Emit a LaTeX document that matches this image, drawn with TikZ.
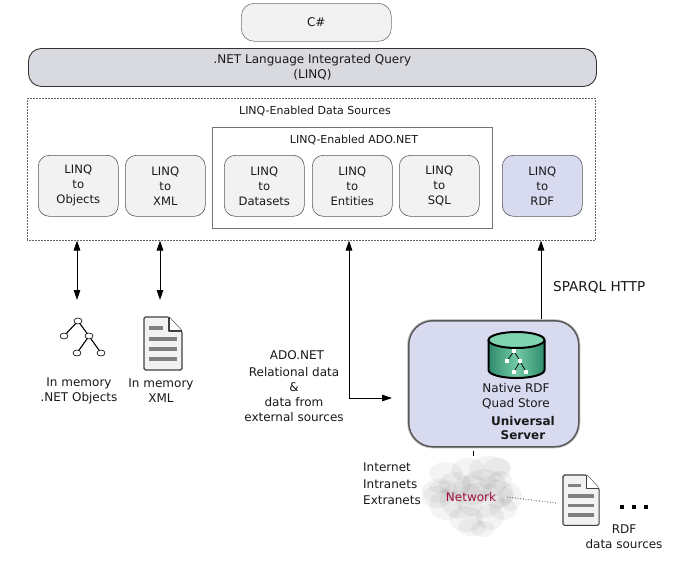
\documentclass[tikz,border=0pt]{standalone}
\usepackage{fontspec}
\setmainfont{DejaVu Sans}
\usetikzlibrary{arrows.meta,calc}
\definecolor{boxfill}{HTML}{F2F2F2}
\definecolor{barfill}{HTML}{D9DAE0}
\definecolor{rdffill}{HTML}{D8DAF0}
\definecolor{dbdark}{HTML}{2F8C6C}
\definecolor{dblight}{HTML}{7FD3B0}
\definecolor{netred}{HTML}{A01038}
\tikzset{
  tx/.style={font=\fontsize{12}{15}\selectfont,align=center,inner sep=0pt,text=black!90},
  small/.style={font=\fontsize{11}{14}\selectfont},
  rbox/.style={draw=black!65,line width=0.6pt,rounded corners=11pt,fill=boxfill,tx,anchor=north west},
  linq/.style={rbox,font=\fontsize{11.6}{15}\selectfont,minimum width=80pt,minimum height=61pt},
  dbl/.style={-{Triangle[length=10pt,width=6.5pt]},line width=0.8pt,black},
  twoway/.style={{Triangle[length=10pt,width=6.5pt]}-{Triangle[length=10pt,width=6.5pt]},line width=0.8pt,black},
  puff/.style={fill=black,fill opacity=0.045,draw=none},
  leaf/.style={draw=black,fill=white,line width=0.6pt},
  pics/docicon/.style={code={
    \draw[line width=1.1pt,draw=black!75,fill=boxfill,rounded corners=1.5pt]
      (0,0) -- (25,0) -- (38,14) -- (38,53) -- (0,53) -- cycle;
    \draw[line width=1.1pt,draw=black!75,fill=white,line join=round] (25,0) -- (25,14) -- (38,14);
    \fill[black!50] (5,9) rectangle (19,13);
    \fill[black!50] (5,20) rectangle (33,24);
    \fill[black!50] (5,30) rectangle (33,34);
    \fill[black!50] (5,40) rectangle (33,44);
  }},
}
\begin{document}
\begin{tikzpicture}[x=1pt,y=-1pt]
\useasboundingbox (0,0) rectangle (674,563);
\fill[white] (0,0) rectangle (674,563);

\node[rbox,draw=black!55,rounded corners=13pt,minimum width=150pt,minimum height=38pt] (csharp) at (241,3) {C\#};
\node[rbox,fill=barfill,draw=black!80,line width=0.9pt,rounded corners=13pt,minimum width=568pt,minimum height=38pt] (query) at (28,48) {.NET Language Integrated Query\\(LINQ)};

\node[draw=black!60,densely dotted,line width=0.5pt,minimum width=568pt,minimum height=142pt,inner sep=0pt,anchor=north west] (sources) at (27,98) {};
\node[tx,small] (sourcestitle) at (315,111) {LINQ-Enabled Data Sources};
\node[draw=black!55,line width=0.6pt,minimum width=280pt,minimum height=101pt,inner sep=0pt,anchor=north west] (ado) at (212,127) {};
\node[tx,small] (adotitle) at (354,140) {LINQ-Enabled ADO.NET};

\node[linq] (objects) at (38,155) {LINQ\\to\\Objects};
\node[linq] (xml) at (125,155) {LINQ\\to\\XML};
\node[linq] (datasets) at (224,155) {LINQ\\to\\Datasets};
\node[linq] (entities) at (312,155) {LINQ\\to\\Entities};
\node[linq] (sql) at (399,155) {LINQ\\to\\SQL};
\node[linq,fill=rdffill] (rdf) at (502,155) {LINQ\\to\\RDF};

% tree icon
\coordinate (ta) at (78,321);
\coordinate (tb) at (64,336);
\coordinate (tc) at (89,336);
\coordinate (td) at (77,353);
\coordinate (te) at (101,353);
\draw[line width=1.1pt,black] (ta) -- (tb) (ta) -- (tc) (tc) -- (td) (tc) -- (te);
\foreach \p in {ta,tb,tc,td,te} \draw[leaf] (\p) ellipse (4pt and 3pt);
\node[tx] (objlabel) at (79,391) {In memory\\.NET Objects};

% xml icon
\pic at (144,317) {docicon};
\node[tx] (xmllabel) at (161,391) {In memory\\XML};

\coordinate (objtop) at (77,300);
\coordinate (xmltop) at (160,300);
\draw[twoway] (objtop |- sources.south) -- (objtop);
\draw[twoway] (xmltop |- sources.south) -- (xmltop);

% server
\node[draw=black!65,line width=1.5pt,preaction={draw=black!22,line width=3.2pt},fill=rdffill,rounded corners=24pt,minimum width=170pt,minimum height=126pt,inner sep=0pt,anchor=north west] (server) at (408,320) {};
% cylinder
\coordinate (cyl) at (516.5,340);
\path[left color=dbdark,right color=dbdark,middle color=dblight!85!dbdark]
  (488.5,340) -- (488.5,370) arc[start angle=180,end angle=360,x radius=28,y radius=-8] -- (544.5,340) -- cycle;
\draw[line width=2pt,black] (488.5,340) -- (488.5,370) arc[start angle=180,end angle=360,x radius=28,y radius=-8] -- (544.5,340);
\draw[line width=2pt,black,fill=dblight] (cyl) ellipse (28pt and 8pt);
\coordinate (na) at (514,351);
\coordinate (nb) at (507,361);
\coordinate (nc) at (520,361);
\coordinate (nd) at (514,372);
\coordinate (ne) at (526,372);
\draw[line width=0.7pt,black] (na) -- (nb) (na) -- (nc) (nc) -- (nd) (nc) -- (ne);
\foreach \p in {na,nb,nc,nd,ne} \fill[white] ($(\p)+(-1.7,-1.7)$) rectangle ($(\p)+(1.7,1.7)$);
\node[tx] (storelabel) at (516,396) {Native RDF\\Quad Store};
\node[tx,font=\fontsize{12}{14.5}\bfseries\selectfont] (serverlabel) at (523,428) {Universal\\Server};

% connectors
\coordinate (serverleft) at (392,398);
\coordinate (adocorner) at (349,398);
\draw[dbl] (adocorner) -- (serverleft);
\draw[dbl] (adocorner) -- (adocorner |- sources.south);
\coordinate (sparqlfoot) at (541,319);
\draw[dbl] (sparqlfoot) -- (sparqlfoot |- sources.south);
\node[tx,anchor=west,font=\fontsize{13.6}{15}\selectfont] (sparql) at (553,287) {SPARQL HTTP};
\node[tx] (adolabel) at (297,355) {ADO.NET};
\node[tx] (rellabel) at (294,395) {Relational data\\\&\\data from\\external sources};

% cloud
\coordinate (cloudtop) at (473,456);
\coordinate (servertick) at (473,451);
\draw[line width=0.6pt,black] (servertick) -- (cloudtop);
\node[inner sep=0pt,minimum width=80pt,minimum height=70pt] (cloud) at (472,497) {};
\fill[white] (472,497) ellipse (38pt and 34pt);
\foreach \x/\y/\a/\b in {
  446/473/17/11, 490/469/21/13, 468/470/17/12, 440/491/18/12, 455/485/16/13,
  484/484/22/15, 437/497/15/11, 511/497/11/14, 498/494/16/14, 446/505/17/15,
  503/509/14/11, 480/500/24/18, 462/500/22/19, 466/519/17/13, 490/517/14/13,
  472/527/14/9, 483/529/12/8, 472/490/19/15, 500/480/12/9}
  \fill[puff] (\x,\y) ellipse (\a pt and \b pt);
\foreach \x/\y/\a/\b in {497/467/13/9, 440/487/11/6, 488/482/9/7, 505/496/8/9}
  \fill[puff] (\x,\y) ellipse (\a pt and \b pt);
\node[tx,text=netred,font=\fontsize{12}{14}\selectfont] (network) at (471,497) {Network};
\node[tx,align=left,anchor=north west,font=\fontsize{12}{16.5}\selectfont] (netlabel) at (363,463) {Internet\\Intranets\\Extranets};

% RDF doc
\pic[scale=0.95] at (563,475) {docicon};
\coordinate (rdfdoc) at (556,503);
\coordinate (netright) at (507,497);
\draw[line width=0.7pt,black,dotted] (netright) -- (rdfdoc);
\node[tx] (rdflabel) at (624,537) {RDF\\data sources};
\foreach \x in {622,634,646} \fill[black] (\x-1.8,504.5) rectangle (\x+1.8,508.5);
\end{tikzpicture}
\end{document}
